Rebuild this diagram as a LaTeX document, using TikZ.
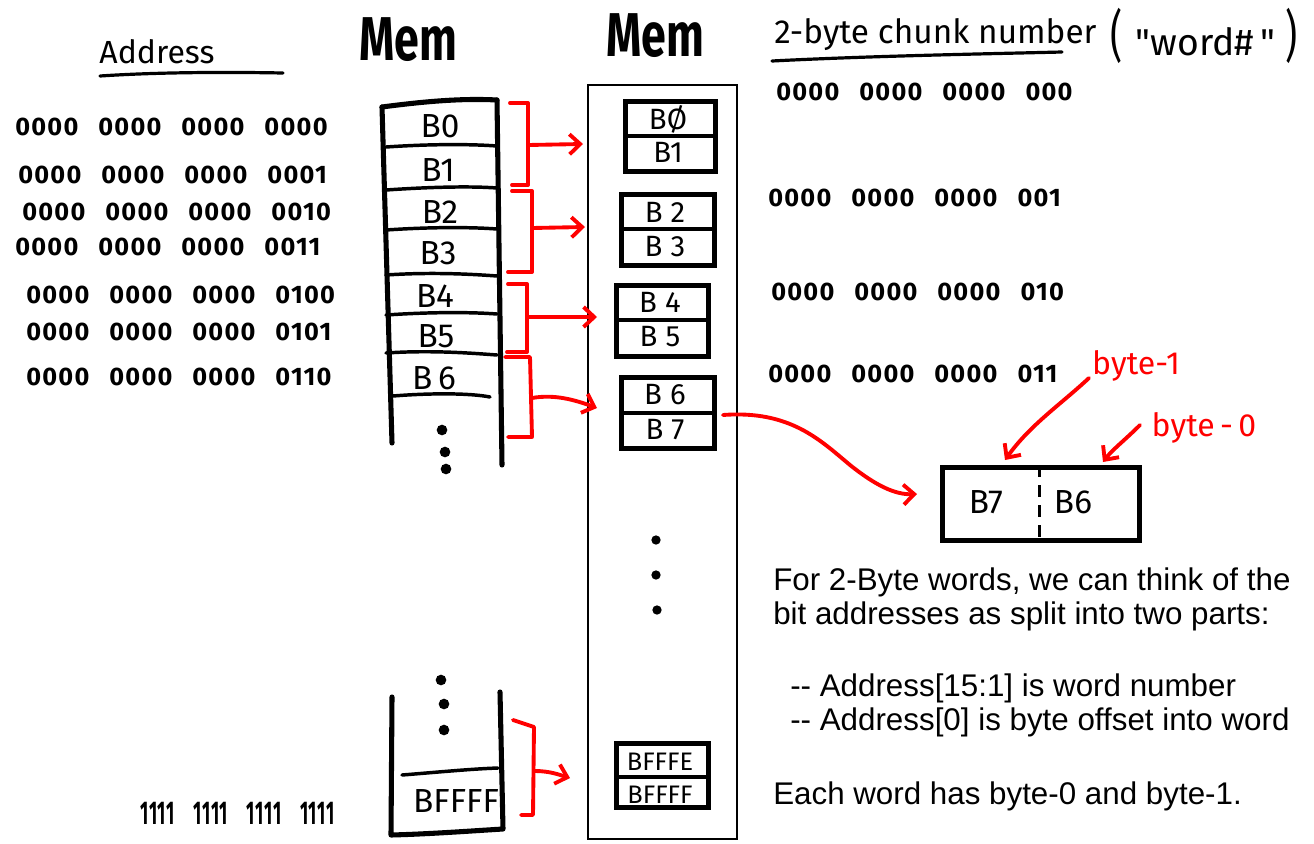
\documentclass[tikz,border=0pt]{standalone}
\usepackage{fontspec}
\setmainfont{Liberation Sans}
\newfontfamily\hand{Fira Sans}
\newfontfamily\digs[LetterSpace=5]{Fira Sans}
\usetikzlibrary{arrows.meta}
\newcommand\bitrow[4]{#1\hspace{15pt}#2\hspace{15pt}#3\hspace{15pt}#4}
\newcommand\ones{\scalebox{0.7}[1.3]{1111}}
\tikzset{
  inkthick/.style={line width=3.8pt, line cap=round, line join=round},
  inkmid/.style={line width=2.4pt, line cap=round, line join=round},
  inkred/.style={red, line width=2.9pt, line cap=round, line join=round},
  redarrow/.style={inkred, -{Straight Barb[length=8pt,width=15pt,line width=2.9pt]}},
  bits/.style={anchor=west, inner sep=0pt, font=\digs\bfseries\fontsize{19}{21}\selectfont},
  blabel/.style={inner sep=0pt, font=\hand\fontsize{25}{28}\selectfont},
  wlabel/.style={inner sep=0pt, font=\hand\fontsize{22}{24}\selectfont},
  wordbox/.style={draw, line width=4pt, minimum width=#1, inner sep=0pt},
  para/.style={anchor=base west, inner sep=0pt, font=\fontsize{23.5}{26}\selectfont},
  dot/.style={circle, fill=black, inner sep=0pt, minimum size=8pt},
}
\begin{document}
\begin{tikzpicture}[x=0.75pt,y=-0.75pt]
\useasboundingbox (0,0) rectangle (1314,843);

% ---------- headings ----------
\node[inner sep=0pt, font=\hand\fontsize{24}{26}\selectfont] (addr) at (157,52) {Address};
\draw[inkmid] (100,76) .. controls (160,72) and (230,72) .. (283,73);
\node[inner sep=0pt, font=\hand\bfseries\fontsize{32}{34}\selectfont] (mem1) at (408,40) {\scalebox{1.05}[1.45]{Mem}};
\node[inner sep=0pt, font=\hand\bfseries\fontsize{32}{34}\selectfont] (mem2) at (655,36) {\scalebox{1.05}[1.45]{Mem}};
\node[inner sep=0pt, anchor=west, font=\hand\fontsize{25}{28}\selectfont] (chunk) at (774,35) {2-byte chunk number};
\draw[inkmid] (772,61) .. controls (870,56) and (980,54) .. (1062,52);
\node[inner sep=0pt, anchor=west, font=\hand\fontsize{28}{30}\selectfont] (wordh) at (1110,36) {\scalebox{1}[1.5]{(}\hspace{10pt}\textquotedbl word\#\,\textquotedbl\hspace{8pt}\scalebox{1}[1.5]{)}};

% ---------- address rows ----------
\node[bits] (a0) at (15,127) {\bitrow{0000}{0000}{0000}{0000}};
\node[bits] (a1) at (18,175) {\bitrow{0000}{0000}{0000}{0001}};
\node[bits] (a2) at (22,212) {\bitrow{0000}{0000}{0000}{0010}};
\node[bits] (a3) at (15,247) {\bitrow{0000}{0000}{0000}{0011}};
\node[bits] (a4) at (26,295) {\bitrow{0000}{0000}{0000}{0100}};
\node[bits] (a5) at (26,332) {\bitrow{0000}{0000}{0000}{0101}};
\node[bits] (a6) at (26,377) {\bitrow{0000}{0000}{0000}{0110}};
\node[bits] (af) at (140,813) {\ones\hspace{14pt}\ones\hspace{14pt}\ones\hspace{14pt}\ones};

% ---------- word number rows ----------
\node[bits] (n0) at (776,92) {\bitrow{0000}{0000}{0000}{000}};
\node[bits] (n1) at (768,198) {\bitrow{0000}{0000}{0000}{001}};
\node[bits] (n2) at (771,292) {\bitrow{0000}{0000}{0000}{010}};
\node[bits] (n3) at (768,374) {\bitrow{0000}{0000}{0000}{011}};

% ---------- left memory column ----------
\draw[inkthick] (382,107) .. controls (420,102) and (460,98) .. (497,100);
\draw[inkthick] (382,107) -- (392,443);
\draw[inkthick] (497,100) -- (502,465);
\foreach \y/\yy in {147/146, 190/188, 230/229, 275/276, 315/314, 353/355}{
  \draw[line width=2.6pt, line cap=round] (386,\y) .. controls (430,\y-3) and (470,\yy-2) .. (497,\yy);
}
\draw[line width=2.6pt, line cap=round] (393,396) .. controls (430,393) and (470,393) .. (490,397);
\node[blabel] (c0) at (440,126) {B0};
\node[blabel] (c1) at (438,170) {B1};
\node[blabel] (c2) at (440,212) {B2};
\node[blabel] (c3) at (438,253) {B3};
\node[blabel] (c4) at (435,296) {B4};
\node[blabel] (c5) at (436,336) {B5};
\node[blabel] (c6) at (434,378) {B\,6};
\node[dot] (d1) at (442,430) {};
\node[dot] (d2) at (445,452) {};
\node[dot] (d3) at (446,469) {};

% bottom memory piece
\node[dot] (d4) at (441,680) {};
\node[dot] (d5) at (444,704) {};
\node[dot] (d6) at (444,730) {};
\draw[inkthick] (392,697) -- (391,835) .. controls (430,834) and (470,831) .. (503,829) -- (500,692);
\draw[line width=2.6pt, line cap=round] (402,775) .. controls (440,772) and (470,769) .. (498,768);
\node[blabel] (cf) at (456,801) {BFFFF};

% ---------- right memory box ----------
\node[draw, line width=1.8pt, minimum width=149*0.75pt, minimum height=754*0.75pt, inner sep=0pt, anchor=north west] (membox) at (587,84) {};
\node[dot, minimum size=7pt] (m1) at (656,540) {};
\node[dot, minimum size=7pt] (m2) at (656,575) {};
\node[dot, minimum size=7pt] (m3) at (657,610) {};

% word boxes
\node[wordbox=90*0.75pt, minimum height=70*0.75pt, anchor=north west] (w0) at (623,99) {};
\draw[line width=2.4pt] (w0.west |- 0,136) -- (w0.east |- 0,136);
\node[wlabel] (w0t) at (668,119) {BØ};
\node[wlabel] (w0b) at (668,152) {B1};

\node[wordbox=93*0.75pt, minimum height=71*0.75pt, anchor=north west] (w1) at (619,192) {};
\draw[line width=2.4pt] (w1.west |- 0,229) -- (w1.east |- 0,229);
\node[wlabel] (w1t) at (665,212) {B\;2};
\node[wlabel] (w1b) at (665,247) {B\;3};

\node[wordbox=92*0.75pt, minimum height=71*0.75pt, anchor=north west] (w2) at (614,283) {};
\draw[line width=2.4pt] (w2.west |- 0,320) -- (w2.east |- 0,320);
\node[wlabel] (w2t) at (660,302) {B\;4};
\node[wlabel] (w2b) at (660,337) {B\;5};

\node[wordbox=93*0.75pt, minimum height=71*0.75pt, anchor=north west] (w3) at (619,375) {};
\draw[line width=2.4pt] (w3.west |- 0,413) -- (w3.east |- 0,413);
\node[wlabel] (w3t) at (665,395) {B\;6};
\node[wlabel] (w3b) at (665,430) {B\;7};

\node[wordbox=92*0.75pt, minimum height=64*0.75pt, anchor=north west] (w4) at (614,741) {};
\draw[line width=2.4pt] (w4.west |- 0,777) -- (w4.east |- 0,777);
\node[wlabel, font=\hand\fontsize{19}{21}\selectfont] (w4t) at (660,762) {BFFFE};
\node[wlabel, font=\hand\fontsize{19}{21}\selectfont] (w4b) at (660,795) {BFFFF};

% ---------- red brackets & arrows ----------
\coordinate (t0) at (583,144);
\coordinate (t1) at (585,227);
\coordinate (t2) at (597,317);
\coordinate (t3) at (597,408);
\coordinate (t4) at (570,778);
\draw[inkred] (510,103) -- (528,103) -- (528,185) -- (512,185);
\draw[redarrow] (528,145) -- (t0);
\draw[inkred] (512,191) -- (532,191) -- (532,272) -- (508,272);
\draw[redarrow] (532,228) -- (t1);
\draw[inkred] (508,284) -- (527,284) -- (527,352) -- (507,352);
\draw[redarrow] (527,317) -- (t2);
\draw[inkred] (505,357) -- (530,357) -- (532,437) -- (508,437);
\draw[redarrow] (532,398) .. controls (555,394) and (575,400) .. (t3);
\draw[inkred] (513,720) -- (534,727) -- (533,815) -- (521,815);
\draw[redarrow] (535,771) .. controls (550,771) and (560,775) .. (t4);

% ---------- B7 | B6 box ----------
\node[draw, line width=4pt, minimum width=197*0.75pt, minimum height=73*0.75pt, inner sep=0pt, anchor=north west] (pair) at (940,465) {};
\draw[line width=2.4pt, dash pattern=on 9pt off 6pt] (pair.north) ++(-1.5pt,0) coordinate (ptop) -- (ptop |- pair.south);
\node[blabel] (p7) at (986,502) {B7};
\node[blabel] (p6) at (1073,502) {B6};
\coordinate (w3out) at (723,415);
\draw[redarrow] (w3out) .. controls (790,410) and (820,440) .. (850,465) .. controls (875,485) and (895,495) .. (917,494);

\node[inner sep=0pt, text=red, font=\hand\fontsize{24}{26}\selectfont] (b1) at (1136,366) {byte-1};
\node[inner sep=0pt, text=red, font=\hand\fontsize{24}{26}\selectfont] (b0) at (1204,428) {byte\,-\,0};
\draw[redarrow] (1089,378) .. controls (1060,405) and (1030,425) .. (1005,460);
\draw[redarrow] (1140,425) .. controls (1125,440) and (1112,450) .. (1103,462);

% ---------- explanation ----------
\node[para] (p1) at (773,590) {For 2-Byte words, we can think of the};
\node[para] (p2) at (773,624) {bit addresses as split into two parts:};
\node[para] (p3) at (790,696) {-{}- Address[15:1] is word number};
\node[para] (p4) at (790,730) {-{}- Address[0] is byte offset into word};
\node[para] (p5) at (773,804) {Each word has byte-0 and byte-1.};
\end{tikzpicture}
\end{document}
